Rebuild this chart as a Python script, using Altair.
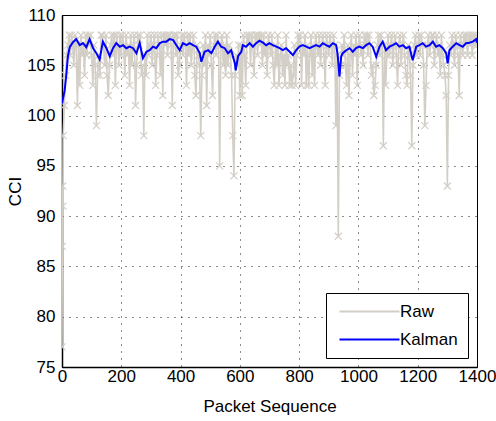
import altair as alt
import pandas as pd

# Raw CCI readings, one value every 4 packets (packets 0, 4, ..., 1396)
RAW_BAND = [
    77, 98, 101, 104, 106, 107, 108, 106, 108, 107, 105, 108, 107, 101, 107, 103, 108, 106, 107, 104, 108, 106, 108, 107, 108,
    106, 103, 107, 105, 99, 104, 106, 104, 108, 108, 107, 105, 108, 104, 102, 105, 107, 108, 106, 108, 103, 108, 107, 105, 108,
    106, 108, 107, 104, 108, 106, 107, 103, 108, 105, 107, 108, 101, 105, 108, 107, 108, 104, 105, 98, 106, 104, 108, 106, 107,
    108, 105, 107, 108, 103, 106, 108, 107, 104, 108, 102, 108, 107, 108, 106, 108, 108, 107, 101, 108, 108, 106, 108, 104, 105,
    107, 108, 106, 108, 107, 103, 108, 106, 108, 105, 107, 108, 104, 102, 107, 106, 105, 98, 104, 107, 105, 108, 101, 107, 106,
    108, 105, 102, 107, 108, 106, 108, 107, 95, 107, 108, 105, 107, 104, 108, 105, 107, 106, 104, 98, 94, 104, 106, 105, 107,
    102, 107, 102, 108, 106, 103, 108, 107, 108, 105, 108, 107, 104, 108, 108, 106, 108, 107, 108, 105, 108, 106, 107, 104, 108,
    107, 106, 108, 105, 103, 107, 105, 108, 103, 106, 107, 104, 106, 103, 108, 105, 106, 103, 105, 103, 104, 107, 103, 106, 108,
    107, 108, 103, 107, 106, 108, 103, 107, 103, 106, 108, 104, 107, 103, 108, 107, 106, 108, 105, 107, 108, 106, 103, 108, 107,
    106, 108, 107, 105, 108, 107, 99, 106, 88, 104, 105, 107, 106, 108, 105, 103, 107, 102, 106, 108, 104, 107, 106, 108, 103,
    107, 108, 106, 107, 105, 108, 107, 108, 106, 108, 107, 104, 105, 102, 103, 105, 107, 108, 106, 108, 107, 97, 107, 103, 106,
    108, 106, 107, 108, 105, 107, 108, 106, 103, 107, 108, 105, 107, 108, 106, 104, 103, 107, 106, 104, 97, 105, 107, 108, 106,
    107, 108, 106, 108, 107, 105, 99, 103, 107, 108, 106, 107, 108, 108, 105, 107, 108, 106, 107, 104, 108, 106, 105, 104, 102,
    93, 104, 107, 106, 108, 107, 105, 108, 107, 106, 102, 108, 107, 106, 108, 107, 108, 106, 108, 107, 108, 106, 108, 107, 108,
]
RAW_STEP = 4
# Start-up readings and the closing reading
RAW_EXTRA_PACKETS = [1, 2, 3, 1400]
RAW_EXTRA_VALUES = [87, 93, 91, 107]

# Kalman-filtered estimate
KALMAN_PACKETS = [
    0, 9, 15, 20, 26, 37, 48, 60, 71, 82, 93, 105, 116, 127, 138, 150, 161, 172, 183, 195,
    206, 217, 228, 240, 251, 262, 273, 285, 296, 307, 318, 330, 341, 352, 363, 375, 386, 397, 408, 420,
    431, 442, 453, 465, 470, 481, 493, 504, 515, 526, 537, 549, 560, 571, 583, 586, 594, 605, 610, 621,
    633, 644, 655, 666, 678, 689, 700, 711, 723, 734, 745, 756, 768, 779, 790, 801, 812, 824, 835, 846,
    857, 869, 880, 891, 902, 914, 925, 930, 936, 942, 947, 959, 970, 981, 992, 1003, 1015, 1026, 1037, 1048,
    1060, 1071, 1082, 1093, 1105, 1116, 1127, 1138, 1150, 1161, 1172, 1183, 1195, 1206, 1217, 1228, 1240, 1251, 1262, 1273,
    1285, 1296, 1301, 1307, 1318, 1330, 1341, 1352, 1363, 1374, 1386, 1397, 1400,
]
KALMAN_VALUES = [
    101.2, 102.5, 104.2, 105.9, 106.8, 107.3, 107.6, 107.0, 107.2, 106.8, 107.6, 106.7, 106.2, 105.6, 107.35, 106.7, 105.9, 106.7, 107.2, 106.85,
    107.0, 106.7, 106.85, 106.7, 106.2, 107.2, 105.7, 106.35, 106.5, 106.85, 106.7, 107.2, 107.35, 107.35, 107.6, 107.5, 107.0, 106.5, 107.2, 107.0,
    107.2, 107.0, 106.85, 106.2, 105.35, 106.35, 106.5, 106.2, 106.85, 107.35, 106.85, 106.7, 106.2, 106.5, 105.2, 104.5, 105.9, 106.35, 107.0, 106.85,
    107.2, 106.85, 107.2, 107.45, 107.25, 107.0, 107.2, 107.0, 106.85, 106.7, 106.5, 106.7, 106.35, 106.0, 106.5, 106.85, 107.0, 106.85, 106.7, 106.85,
    107.0, 106.85, 107.2, 107.0, 106.85, 107.2, 107.0, 106.0, 103.9, 105.9, 106.2, 106.5, 106.7, 106.35, 106.7, 106.85, 106.7, 107.0, 107.2, 106.85,
    105.85, 106.85, 107.35, 106.5, 106.85, 107.0, 107.2, 106.85, 107.0, 106.7, 106.85, 105.5, 106.85, 107.0, 107.2, 106.85, 107.0, 107.35, 106.85, 107.0,
    106.7, 106.2, 105.2, 106.5, 106.85, 107.2, 107.0, 106.85, 107.2, 107.25, 107.35, 107.6, 107.25,
]

SERIES = ["Raw", "Kalman"]
COLORS = ["#d3cfc7", "#0000ff"]
X_TICKS = list(range(0, 1401, 200))
Y_TICKS = list(range(75, 111, 5))

FONT = "Liberation Sans"
X_MARK = "M-1,-1L1,1M-1,1L1,-1"

raw_df = pd.DataFrame({
    "packet": [i * RAW_STEP for i in range(len(RAW_BAND))] + RAW_EXTRA_PACKETS,
    "cci": RAW_BAND + RAW_EXTRA_VALUES,
})
raw_df["series"] = "Raw"
kal_df = pd.DataFrame({"packet": KALMAN_PACKETS, "cci": KALMAN_VALUES})
kal_df["series"] = "Kalman"

x_enc = alt.X(
    "packet:Q",
    scale=alt.Scale(domain=[0, 1400], nice=False),
    axis=alt.Axis(
        values=X_TICKS, format="d", title="Packet Sequence", labelFlush=False,
        labelPadding=1, titlePadding=14, gridDash=[1, 6],
    ),
)
y_enc = alt.Y(
    "cci:Q",
    scale=alt.Scale(domain=[75, 110], nice=False, zero=False),
    axis=alt.Axis(
        values=Y_TICKS, format="d", title="CCI", labelPadding=7, titlePadding=2,
        gridDash=[1, 6],
    ),
)
color_enc = alt.Color(
    "series:N",
    scale=alt.Scale(domain=SERIES, range=COLORS),
    sort=SERIES,
    legend=alt.Legend(
        title=None, orient="none", legendX=264, legendY=278,
        symbolType="M-1,0H11", symbolSize=100, symbolStrokeWidth=1.8,
        labelFont=FONT, labelFontSize=17, labelColor="black", labelOffset=47,
        padding=10, rowPadding=10, strokeColor="black", fillColor="white",
        cornerRadius=0,
    ),
)

raw_line = alt.Chart(raw_df).mark_line(strokeWidth=1.6, clip=True).encode(
    x=x_enc, y=y_enc, color=color_enc
)
raw_pts = alt.Chart(raw_df).mark_point(
    shape=X_MARK, size=49, filled=False, strokeWidth=1.2, color=COLORS[0], opacity=1, clip=True
).encode(x=x_enc, y=y_enc)
kal_line = alt.Chart(kal_df).mark_line(strokeWidth=2, clip=True).encode(
    x=x_enc, y=y_enc, color=color_enc
)

chart = (
    alt.layer(raw_line, raw_pts, kal_line)
    .properties(
        width=415, height=352,
        padding={"left": 62, "top": 15, "right": 19, "bottom": 54},
        autosize=alt.AutoSizeParams(type="none"),
        background="white",
    )
    .configure_view(stroke="black", strokeWidth=1)
    .configure_axis(
        labelFont=FONT, titleFont=FONT, labelFontSize=17, titleFontSize=17,
        titleFontWeight="normal", labelColor="black", titleColor="black",
        ticks=False, domainColor="black", domainWidth=1.5,
        grid=True, gridColor="black", gridOpacity=0.9, gridWidth=1, zindex=1,
    )
)

chart.save("out.html", embed_options={"renderer": "svg", "actions": False})
